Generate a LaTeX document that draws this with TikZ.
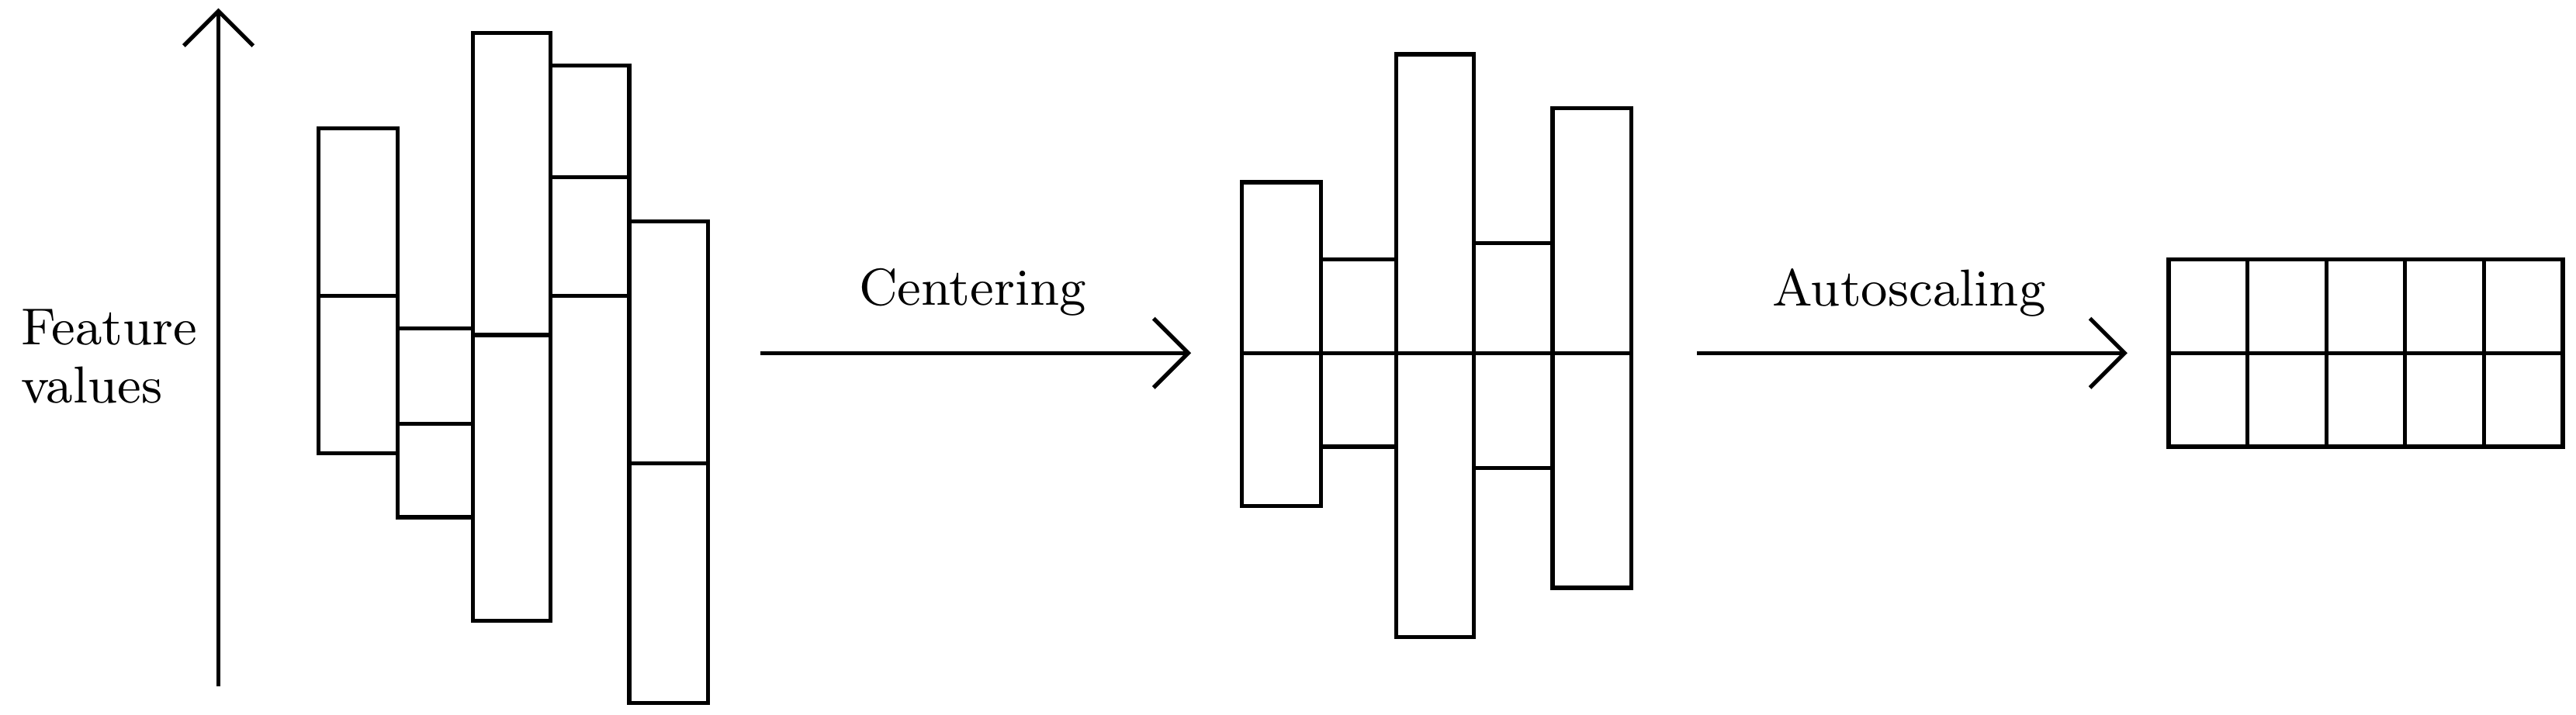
\documentclass[tikz,border=0pt]{standalone}
\usetikzlibrary{arrows.meta}
\begin{document}
\begin{tikzpicture}[x=0.01cm,y=-0.01cm,line width=0.7pt,
  arr/.style={-{Straight Barb[length=6pt,width=12pt]},line width=0.7pt},
  lbl/.style={font=\fontsize{9}{11}\selectfont}]
\useasboundingbox (0,0) rectangle (1568,435);
% axis
\coordinate (a0) at (133,418); \coordinate (a1) at (133,5);
\draw[arr] (a0) -- (a1);
\node[lbl,align=left,anchor=west] (fv) at (0,217) {Feature\\[-1pt]values};
% left group
\foreach \xa/\xb/\ya/\ym/\yb in {194/242/78/180/276, 242/288/200/258/315, 288/335/20/204/378, 335/383/40/108/180, 383/431/135/282/428}{
  \draw (\xa,\ya) rectangle (\xb,\yb); \draw (\xa,\ym) -- (\xb,\ym);}
% arrow 1
\coordinate (c0) at (463,215); \coordinate (c1) at (725,215);
\draw[arr] (c0) -- (c1);
\node[lbl] (cl) at (592,178) {Centering};
% middle group
\foreach \xa/\xb/\ya/\yb in {756/804/111/308, 804/850/158/272, 850/897/33/388, 897/945/148/285, 945/993/66/358}{
  \draw (\xa,\ya) rectangle (\xb,\yb);}
\draw (756,215) -- (993,215);
% arrow 2
\coordinate (d0) at (1033,215); \coordinate (d1) at (1295,215);
\draw[arr] (d0) -- (d1);
\node[lbl] (al) at (1162,178) {Autoscaling};
% right grid
\foreach \i in {0,...,4}{\draw (1320+48*\i,158) rectangle (1368+48*\i,272);}
\draw (1320,215) -- (1560,215);
\end{tikzpicture}
\end{document}
